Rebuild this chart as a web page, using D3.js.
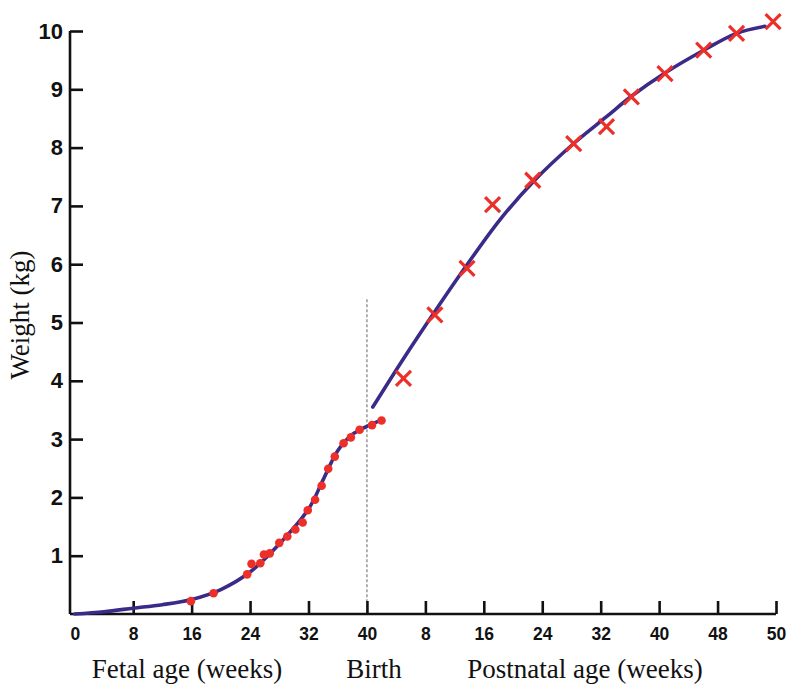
<!DOCTYPE html>
<html><head><meta charset="utf-8">
<script src="https://cdn.jsdelivr.net/npm/d3@7"></script>
<style>body{margin:0;background:#fff}svg{display:block}</style>
</head><body>
<svg id="c" width="789" height="684"></svg>
<script>
// Fetal measurements (gestational week, kg)
const fetalWeeks   = [15.9,19.0,23.6,24.2,25.4,25.9,26.7,28.0,29.1,30.2,31.2,31.9,32.9,33.8,34.7,35.6,36.8,37.8,39.0,40.7,42.0];
const fetalWeights = [0.22,0.355,0.68,0.86,0.87,1.02,1.04,1.22,1.33,1.45,1.57,1.78,1.96,2.20,2.49,2.70,2.93,3.03,3.16,3.24,3.32];
// Fetal fitted curve
const fetalCurveWeeks   = [0,4,8,12,16,20,24,28,32,34,36,38,40,42];
const fetalCurveWeights = [0,0.04,0.1,0.16,0.25,0.42,0.72,1.2,1.8,2.3,2.8,3.08,3.22,3.33];
// Postnatal measurements (postnatal week, kg)
const postWeeks   = [5.0,9.3,13.7,17.2,22.7,28.3,32.8,36.2,40.8,46.1,50.6,55.6];
const postWeights = [4.04,5.13,5.93,7.02,7.44,8.07,8.36,8.87,9.27,9.67,9.96,10.16];
// Postnatal fitted curve
const postCurveWeeks   = [0.8,5.0,9.3,13.7,18.2,22.8,28.3,32.8,36.2,40.8,46.1,50.6,54.5];
const postCurveWeights = [3.55,4.38,5.19,5.99,6.76,7.42,8.07,8.53,8.88,9.28,9.67,9.96,10.08];
// Axis ticks
const fetalTickValues = [0,8,16,24,32,40];
const fetalTickLabels = ["0","8","16","24","32","40"];
const postTickValues = [8,16,24,32,40,48,56];
const postTickLabels = ["8","16","24","32","40","48","50"];
const yTickValues = [1,2,3,4,5,6,7,8,9,10];
const birthWeek = 40;

const svg = d3.select("#c");
const x = d3.scaleLinear().domain([-0.65, 96]).range([70, 776]);
const y = d3.scaleLinear().domain([0, 10]).range([614, 31]);
const purple = "#3b2a88", red = "#ec2f28";

// dashed birth line
svg.append("line").attr("x1", x(birthWeek)).attr("x2", x(birthWeek))
  .attr("y1", y(5.4)).attr("y2", y(0))
  .attr("stroke", "#888").attr("stroke-width", 1.3).attr("stroke-dasharray", "3,2");

// axes
const allTicks = fetalTickValues.concat(postTickValues.map(v => v + birthWeek));
const allLabels = fetalTickLabels.concat(postTickLabels);
const xAxis = d3.axisBottom(x).tickValues(allTicks)
  .tickFormat((d, i) => allLabels[i]).tickSizeInner(-13).tickSizeOuter(0).tickPadding(14);
const gx = svg.append("g").attr("transform", `translate(0,${y(0)})`).call(xAxis);
gx.select(".domain").attr("d", `M${x.range()[0]},0H${x.range()[1]}`);
gx.selectAll(".tick").filter(d => d === 0).select("line").remove();
const yAxis = d3.axisLeft(y).tickValues(yTickValues).tickSizeInner(-13).tickSizeOuter(0).tickPadding(7);
const gy = svg.append("g").attr("transform", `translate(${x.range()[0]},0)`).call(yAxis);
gy.select(".domain").attr("d", `M0,${y(10)}V${y(0)}`);
[gx, gy].forEach(g => {
  g.selectAll(".domain,.tick line").attr("stroke", "#111").attr("stroke-width", 2.6);
  g.selectAll("text").attr("fill", "#111").attr("font-family", "Liberation Sans, Arial, sans-serif").attr("font-weight", "bold");
});
gx.selectAll("text").attr("font-size", "17.5px");
gy.selectAll("text").attr("font-size", "22px");

// curves
const line = d3.line().x(d => x(d[0])).y(d => y(d[1])).curve(d3.curveCatmullRom.alpha(0.5));
svg.append("path").datum(fetalCurveWeeks.map((w, i) => [w, fetalCurveWeights[i]]))
  .attr("d", line).attr("fill", "none").attr("stroke", purple).attr("stroke-width", 3.6).attr("stroke-linecap", "round");
svg.append("path").datum(postCurveWeeks.map((w, i) => [w + birthWeek, postCurveWeights[i]]))
  .attr("d", line).attr("fill", "none").attr("stroke", purple).attr("stroke-width", 3.6).attr("stroke-linecap", "round");

// fetal dots
svg.append("g").selectAll("circle").data(fetalWeeks.map((w, i) => [w, fetalWeights[i]])).join("circle")
  .attr("cx", d => x(d[0])).attr("cy", d => y(d[1])).attr("r", 4.3).attr("fill", red);

// postnatal crosses
const s = 7.5;
svg.append("g").selectAll("path").data(postWeeks.map((w, i) => [w + birthWeek, postWeights[i]])).join("path")
  .attr("d", d => { const cx = x(d[0]), cy = y(d[1]); return `M${cx - s},${cy - s}L${cx + s},${cy + s}M${cx - s},${cy + s}L${cx + s},${cy - s}`; })
  .attr("stroke", red).attr("stroke-width", 3.2).attr("fill", "none");

// titles
const serif = "Liberation Serif, Times New Roman, serif";
svg.append("text").attr("x", 187).attr("y", 678).attr("text-anchor", "middle")
  .attr("font-family", serif).attr("font-size", "27px").attr("fill", "#111").text("Fetal age (weeks)");
svg.append("text").attr("x", 374).attr("y", 678).attr("text-anchor", "middle")
  .attr("font-family", serif).attr("font-size", "27px").attr("fill", "#111").text("Birth");
svg.append("text").attr("x", 585).attr("y", 678).attr("text-anchor", "middle")
  .attr("font-family", serif).attr("font-size", "27px").attr("fill", "#111").text("Postnatal age (weeks)");
svg.append("text").attr("transform", "translate(29,315) rotate(-90)").attr("text-anchor", "middle")
  .attr("font-family", serif).attr("font-size", "27px").attr("fill", "#111").text("Weight (kg)");
</script>
</body></html>
